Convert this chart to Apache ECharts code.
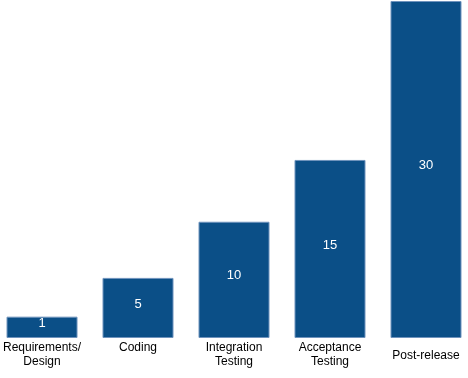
<!DOCTYPE html>
<html>
<head>
<meta charset="utf-8">
<script src="https://cdn.jsdelivr.net/npm/echarts@6/dist/echarts.min.js"></script>
<style>
  html, body { margin: 0; padding: 0; background: #fff; }
  #chart { width: 468px; height: 378px; }
</style>
</head>
<body>
<div id="chart"></div>
<script>
// Phases of the project
const categories = ['Requirements/\nDesign', 'Coding', 'Integration\nTesting', 'Acceptance\nTesting', 'Post-release'];
// Numbers printed on the bars (relative cost)
const costLabels = [1, 5, 10, 15, 30];
// Bar heights as drawn in the picture (same units, the small bar is drawn taller)
const barHeights = [1.9, 5.35, 10.35, 15.85, 30];

const chart = echarts.init(document.getElementById('chart'));

const option = {
  animation: false,
  grid: {
    left: 40,
    right: 42,
    top: 1,
    bottom: 40
  },
  xAxis: {
    type: 'category',
    boundaryGap: false,
    data: categories.map((c, i) => i === categories.length - 1
      ? { value: c, textStyle: { padding: [8, 0, 0, 0] } }
      : c),
    axisLine: { show: false },
    axisTick: { show: false },
    axisLabel: {
      interval: 0,
      margin: 3,
      color: '#000',
      fontFamily: 'Liberation Sans, Arial, sans-serif',
      fontSize: 12,
      lineHeight: 14
    }
  },
  yAxis: {
    type: 'value',
    min: 0,
    max: 30,
    show: false
  },
  series: [
    {
      type: 'bar',
      barWidth: 71,
      clip: false,
      data: barHeights,
      itemStyle: {
        color: '#0b4f87',
        borderColor: '#6f93bd',
        borderWidth: 1
      },
      label: {
        show: true,
        position: 'inside',
        offset: [0, -4],
        color: '#fff',
        fontFamily: 'Liberation Sans, Arial, sans-serif',
        fontSize: 13,
        formatter: (p) => String(costLabels[p.dataIndex])
      }
    }
  ]
};

chart.setOption(option);
</script>
</body>
</html>
